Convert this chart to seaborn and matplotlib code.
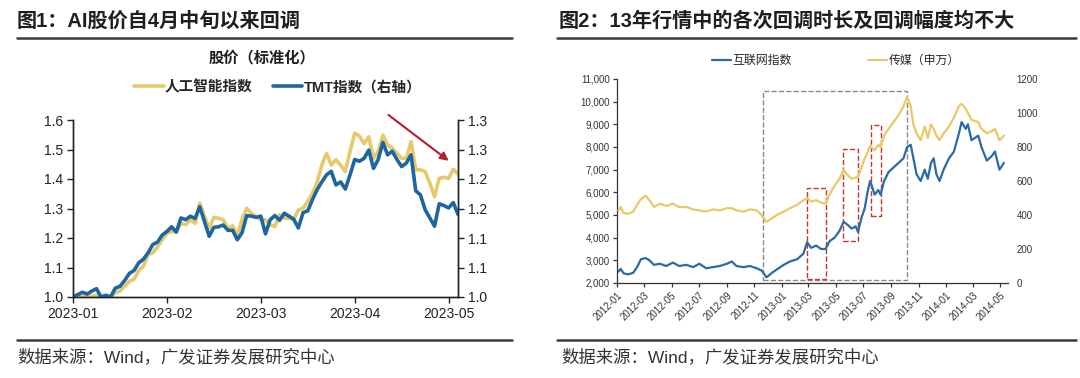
import matplotlib
matplotlib.use("Agg")
import matplotlib.pyplot as plt
import matplotlib.dates as mdates
from matplotlib.lines import Line2D
from matplotlib.patches import Rectangle
from matplotlib.ticker import FuncFormatter, MultipleLocator
import seaborn as sns
import pandas as pd

# ---------------- 图1 data: standardized prices, one point per trading day
ai_index = [1.000, 1.002, 1.001, 1.004, 1.002, 1.006, 1.000, 1.000, 1.000, 1.014,
            1.020, 1.036, 1.053, 1.060, 1.090, 1.104, 1.143, 1.150, 1.170, 1.194,
            1.217, 1.222, 1.222, 1.250, 1.245, 1.262, 1.250, 1.318, 1.273, 1.233,
            1.270, 1.267, 1.262, 1.233, 1.241, 1.211, 1.262, 1.301, 1.284, 1.273,
            1.262, 1.262, 1.245, 1.239, 1.279, 1.267, 1.267, 1.262, 1.295, 1.301,
            1.324, 1.352, 1.390, 1.447, 1.487, 1.447, 1.465, 1.447, 1.425, 1.493,
            1.555, 1.546, 1.520, 1.543, 1.470, 1.493, 1.549, 1.516, 1.504, 1.487,
            1.470, 1.470, 1.527, 1.431, 1.431, 1.425, 1.386, 1.340, 1.402, 1.406,
            1.402, 1.433, 1.417]
tmt_index = [1.000, 1.004, 1.008, 1.005, 1.010, 1.014, 1.000, 1.003, 1.000, 1.015,
             1.018, 1.028, 1.040, 1.045, 1.058, 1.064, 1.075, 1.089, 1.093, 1.105,
             1.111, 1.119, 1.110, 1.134, 1.131, 1.137, 1.133, 1.153, 1.128, 1.103,
             1.118, 1.119, 1.122, 1.113, 1.113, 1.097, 1.109, 1.138, 1.137, 1.135,
             1.137, 1.107, 1.131, 1.138, 1.130, 1.142, 1.137, 1.132, 1.117, 1.143,
             1.146, 1.165, 1.182, 1.195, 1.207, 1.213, 1.190, 1.195, 1.183, 1.207,
             1.233, 1.230, 1.235, 1.249, 1.218, 1.233, 1.262, 1.241, 1.247, 1.233,
             1.221, 1.227, 1.241, 1.180, 1.173, 1.148, 1.134, 1.120, 1.158, 1.155,
             1.151, 1.160, 1.140]
fig1_tick_pos = [0, 20, 40, 60, 80]
fig1_tick_labels = ['2023-01', '2023-02', '2023-03', '2023-04', '2023-05']
right_ticks = [1.0, 1.05, 1.1, 1.15, 1.2, 1.25, 1.3]
right_tick_labels = ['1.0', '1.1', '1.1', '1.2', '1.2', '1.3', '1.3']

# ---------------- 图2 data
fig2_dates = ['2012-01-04', '2012-01-09', '2012-01-16', '2012-01-26', '2012-02-06',
              '2012-02-16', '2012-02-23', '2012-03-05', '2012-03-13', '2012-03-23',
              '2012-04-05', '2012-04-19', '2012-05-04', '2012-05-18', '2012-06-03',
              '2012-06-18', '2012-07-02', '2012-07-17', '2012-08-01', '2012-08-16',
              '2012-09-01', '2012-09-12', '2012-09-22', '2012-10-08', '2012-10-22',
              '2012-11-06', '2012-11-17', '2012-11-28', '2012-12-10', '2012-12-21',
              '2013-01-05', '2013-01-19', '2013-02-04', '2013-02-18', '2013-02-26',
              '2013-03-07', '2013-03-18', '2013-03-29', '2013-04-08', '2013-04-17',
              '2013-04-28', '2013-05-09', '2013-05-18', '2013-05-25', '2013-06-05',
              '2013-06-14', '2013-06-19', '2013-06-27', '2013-07-04', '2013-07-11',
              '2013-07-16', '2013-07-26', '2013-08-03', '2013-08-08', '2013-08-16',
              '2013-08-26', '2013-09-06', '2013-09-17', '2013-09-28', '2013-10-06',
              '2013-10-14', '2013-10-20', '2013-10-27', '2013-11-05', '2013-11-14',
              '2013-11-21', '2013-11-28', '2013-12-04', '2013-12-10', '2013-12-17',
              '2013-12-26', '2014-01-07', '2014-01-18', '2014-01-29', '2014-02-04',
              '2014-02-13', '2014-02-18', '2014-02-26', '2014-03-13', '2014-03-20',
              '2014-04-01', '2014-04-12', '2014-04-19', '2014-04-29', '2014-05-09']
internet_index = [2500, 2620, 2420, 2380, 2450, 2750, 3050, 3100, 3000, 2800,
                  2850, 2750, 2900, 2750, 2800, 2700, 2850, 2650, 2700, 2750,
                  2850, 2950, 2750, 2700, 2750, 2650, 2550, 2250, 2450, 2600,
                  2800, 2950, 3050, 3300, 3800, 3550, 3650, 3500, 3500, 3850,
                  4000, 4300, 4700, 4600, 4400, 4500, 4250, 4900, 5300, 6100,
                  6500, 5900, 6100, 5900, 6500, 6900, 7100, 7300, 7500, 8000,
                  8100, 7500, 6800, 6500, 7000, 6600, 7300, 7500, 6800, 6500,
                  7000, 7500, 7800, 8600, 9100, 8800, 9000, 8300, 8500, 8000,
                  7400, 7600, 7800, 7000, 7300]
media_index = [427, 447, 411, 407, 420, 467, 493, 513, 487, 447,
               467, 453, 467, 447, 447, 433, 427, 420, 433, 427,
               440, 440, 427, 420, 433, 427, 400, 360, 380, 400,
               420, 440, 460, 487, 500, 480, 487, 473, 467, 520,
               573, 613, 667, 640, 613, 620, 627, 680, 733, 773,
               807, 780, 813, 800, 867, 907, 947, 987, 1040, 1093,
               1040, 933, 880, 840, 920, 853, 933, 907, 867, 840,
               880, 920, 973, 1040, 1053, 1027, 1000, 960, 947, 907,
               880, 893, 907, 840, 867]
# pullback boxes: start, end, low, high (left axis units)
big_box = ('2012-11-20', '2013-10-06', 2150, 10470)
red_boxes = [('2013-02-26', '2013-04-09', 2190, 6200),
             ('2013-05-16', '2013-06-19', 3860, 7900),
             ('2013-07-18', '2013-08-09', 4960, 8960)]

YELLOW = '#E5C96A'
BLUE = '#1E66A0'
TXT = '#1f1f1f'
W, H = 1080, 378

sns.set_theme(style='white')
plt.rcParams['font.family'] = ['Liberation Sans', 'Noto Sans CJK SC']
plt.rcParams['axes.unicode_minus'] = False


def box(x0, y0, x1, y1):
    return [x0 / W, 1 - y1 / H, (x1 - x0) / W, (y1 - y0) / H]


fig = plt.figure(figsize=(10.8, 3.78), dpi=100)

# ---------------- titles, rules, footers
for x, t in [(17, '图1：AI股价自4月中旬以来回调'), (559, '图2：13年行情中的各次回调时长及回调幅度均不大')]:
    fig.text(x / W, 1 - 21 / H, t, fontsize=14.5, weight='bold', color=TXT, ha='left', va='center')
for x0, x1 in [(17, 512), (557, 1076)]:
    fig.add_artist(Line2D([x0 / W, x1 / W], [1 - 38 / H] * 2, color='#3a3a3a', lw=1.8))
    fig.add_artist(Line2D([x0 / W, x1 / W], [1 - 340 / H] * 2, color='#3a3a3a', lw=1.8))
for x in [17, 561]:
    fig.text(x / W, 1 - 357 / H, '数据来源：Wind，广发证券发展研究中心', fontsize=12.5,
             color='#333333', ha='left', va='center')

# ---------------- 图1
ax1 = fig.add_axes(box(73, 120, 458, 297))
ax1r = ax1.twinx()
days = list(range(len(ai_index)))
sns.lineplot(x=days, y=ai_index, ax=ax1, color=YELLOW, linewidth=2.6)
sns.lineplot(x=days, y=tmt_index, ax=ax1r, color=BLUE, linewidth=2.6)
ax1.set_xlim(0, 82.0)
ax1.set_ylim(1.0, 1.6)
ax1.yaxis.set_major_locator(MultipleLocator(0.1))
ax1.yaxis.set_major_formatter(FuncFormatter(lambda v, p: f'{v:.1f}'))
ax1r.set_ylim(1.0, 1.3)
ax1r.set_yticks(right_ticks)
ax1r.set_yticklabels(right_tick_labels)
ax1.set_xticks(fig1_tick_pos)
ax1.set_xticklabels(fig1_tick_labels)
for a in (ax1, ax1r):
    a.grid(False)
    a.spines['top'].set_visible(False)
    for s in ('left', 'right', 'bottom'):
        a.spines[s].set_color('#222222')
        a.spines[s].set_linewidth(1.0)
    a.tick_params(labelsize=10, colors='#222222', length=4, width=1.0, pad=3)
ax1.tick_params(axis='y', left=True, direction='out')
ax1.tick_params(axis='x', bottom=True, direction='out')
ax1r.tick_params(axis='y', right=True, direction='out')
ax1.set_xlabel('')
ax1.set_ylabel('')
ax1r.set_ylabel('')
ax1.annotate('', xy=(80.5, 1.456), xytext=(66.7, 1.623), annotation_clip=False,
             arrowprops=dict(arrowstyle='-|>', color='#B3202A', lw=1.5, mutation_scale=12))

fig.text(262 / W, 1 - 58 / H, '股价（标准化）', fontsize=11, weight='bold', color=TXT,
         ha='center', va='center')
fig.legend([ax1.get_lines()[0], ax1r.get_lines()[0]], ['人工智能指数', 'TMT指数（右轴）'],
           loc='center', bbox_to_anchor=(278 / W, 1 - 87 / H), ncol=2, frameon=False,
           handlelength=2.0, handletextpad=0.1, columnspacing=1.4,
           prop=dict(size=10.5, weight='bold'))

# ---------------- 图2
ax2 = fig.add_axes(box(617, 79, 1008, 283))
ax2r = ax2.twinx()
dates = pd.to_datetime(fig2_dates)
sns.lineplot(x=dates, y=internet_index, ax=ax2, color='#2A6BA6', linewidth=1.6)
sns.lineplot(x=dates, y=media_index, ax=ax2r, color='#E8C965', linewidth=1.6)
ax2.set_xlim(pd.Timestamp('2012-01-01'), pd.Timestamp('2014-05-18'))
ax2.set_ylim(2000, 11000)
ax2.yaxis.set_major_locator(MultipleLocator(1000))
ax2.yaxis.set_major_formatter(FuncFormatter(lambda v, p: f'{v:,.0f}'))
ax2r.set_ylim(0, 1200)
ax2r.yaxis.set_major_locator(MultipleLocator(200))
ax2.xaxis.set_major_locator(mdates.MonthLocator(bymonth=[1, 3, 5, 7, 9, 11]))
ax2.xaxis.set_major_formatter(mdates.DateFormatter('%Y-%m'))
for a in (ax2, ax2r):
    a.grid(False)
    for s in ('top', 'right'):
        a.spines[s].set_visible(False)
    a.tick_params(labelsize=7, colors='#333333')
ax2r.spines['left'].set_visible(False)
ax2r.spines['bottom'].set_visible(False)
for s in ('left', 'bottom'):
    ax2.spines[s].set_color('#333333')
    ax2.spines[s].set_linewidth(0.9)
ax2.tick_params(axis='both', direction='out', length=3, width=0.9, left=True, bottom=True, pad=2)
ax2r.tick_params(axis='y', right=False, length=0, pad=6)
for lab in ax2.get_xticklabels():
    lab.set_rotation(45)
    lab.set_ha('right')
    lab.set_rotation_mode('anchor')
ax2.set_xlabel('')
ax2.set_ylabel('')
ax2r.set_ylabel('')

x0, x1, lo, hi = big_box
d0, d1 = mdates.date2num(pd.Timestamp(x0)), mdates.date2num(pd.Timestamp(x1))
ax2.add_patch(Rectangle((d0, lo), d1 - d0, hi - lo, fill=False, ec='#8a8a8a', ls='--', lw=1.0))
for x0, x1, lo, hi in red_boxes:
    d0, d1 = mdates.date2num(pd.Timestamp(x0)), mdates.date2num(pd.Timestamp(x1))
    ax2.add_patch(Rectangle((d0, lo), d1 - d0, hi - lo, fill=False, ec='#C0392B', ls='--', lw=1.0))

fig.legend([ax2.get_lines()[0], ax2r.get_lines()[0]], ['互联网指数', '传媒（申万）'],
           loc='center', bbox_to_anchor=(836 / W, 1 - 61 / H), ncol=2, frameon=False,
           handlelength=1.6, handletextpad=0.15, columnspacing=6.4,
           prop=dict(size=8.6))

fig.savefig('out.png', dpi=100)
